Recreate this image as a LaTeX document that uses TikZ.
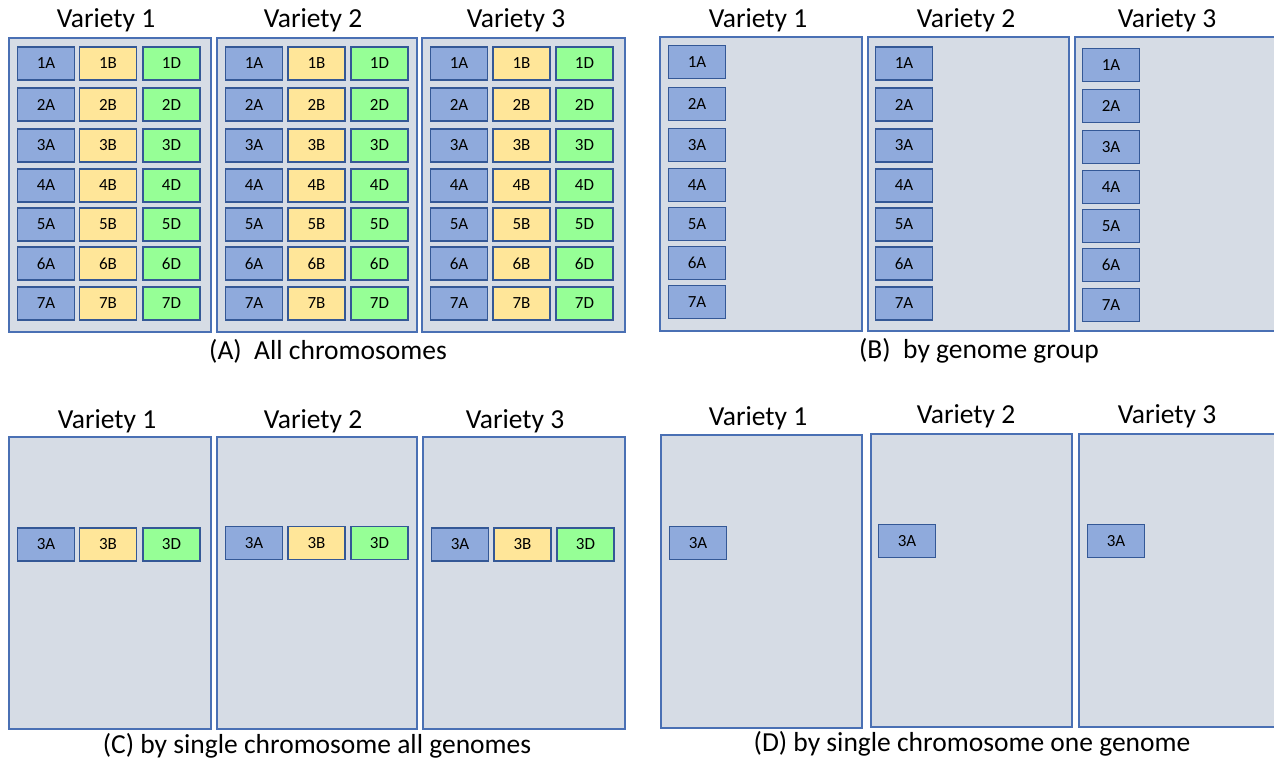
\documentclass[tikz,border=0pt]{standalone}
\usepackage{fontspec}
\setmainfont{Carlito}
\definecolor{ofill}{RGB}{214,220,229}
\definecolor{obord}{RGB}{74,112,180}
\definecolor{cbord}{RGB}{52,88,150}
\definecolor{cblue}{RGB}{143,170,220}
\definecolor{cyellow}{RGB}{255,230,153}
\definecolor{cgreen}{RGB}{150,255,150}
\begin{document}
\begin{tikzpicture}[x=1pt,y=-1pt,
  outer/.style={draw=obord, fill=ofill, line width=1.5pt, inner sep=0pt, anchor=north west},
  chr/.style={draw=cbord, line width=1.6pt, minimum width=57pt, minimum height=33pt, inner sep=0pt,
    font=\fontsize{17}{17}\selectfont, text=black},
  ca/.style={chr, fill=cblue},
  cb/.style={chr, fill=cyellow},
  cd/.style={chr, fill=cgreen},
  vtitle/.style={font=\fontsize{27.5}{30}\selectfont, text=black},
  pcap/.style={font=\fontsize{27.5}{30}\selectfont, text=black}]
\useasboundingbox (0,0) rectangle (1274,763);
\fill[white] (0,0) rectangle (1274,763);

% ---------- Panel A ----------
\foreach \n/\xl/\xr in {1/8/210, 2/216/416, 3/421/624}{
  \pgfmathsetmacro{\w}{\xr-\xl}
  \node[outer, minimum width=\w pt, minimum height=294pt] (A\n) at (\xl,37) {};
}
\foreach \n/\xa/\xb/\xd in {1/46/108/171.5, 2/254/316.5/379.5, 3/459/521.5/584.5}{
  \foreach \r/\y in {1/63.5, 2/104.5, 3/145.5, 4/185.5, 5/224.5, 6/263.5, 7/303.5}{
    \node[ca] (A\n-\r A) at (\xa,\y) {\r A};
    \node[cb] (A\n-\r B) at (\xb,\y) {\r B};
    \node[cd] (A\n-\r D) at (\xd,\y) {\r D};
  }
}
\node[vtitle] (tA1) at (106,20) {Variety 1};
\node[vtitle] (tA2) at (313,20) {Variety 2};
\node[vtitle] (tA3) at (516,20) {Variety 3};
\node[pcap] (capA) at (328,351) {(A)~ All chromosomes};

% ---------- Panel B ----------
\foreach \n/\xl/\xr in {1/659/861, 2/867/1068, 3/1074/1278}{
  \pgfmathsetmacro{\w}{\xr-\xl}
  \node[outer, minimum width=\w pt, minimum height=294pt] (B\n) at (\xl,36) {};
}
\foreach \r/\y in {1/62, 2/104, 3/145, 4/185, 5/224, 6/263, 7/302}{
  \node[ca] (B1-\r A) at (697,\y) {\r A};
}
\foreach \r/\y in {1/63.5, 2/104.5, 3/145.5, 4/185.5, 5/224.5, 6/263.5, 7/303.5}{
  \node[ca] (B2-\r A) at (904,\y) {\r A};
}
\foreach \r/\y in {1/65, 2/106, 3/147, 4/187, 5/226, 6/265, 7/305}{
  \node[ca] (B3-\r A) at (1111,\y) {\r A};
}
\node[vtitle] (tB1) at (758,20) {Variety 1};
\node[vtitle] (tB2) at (966,20) {Variety 2};
\node[vtitle] (tB3) at (1167,20) {Variety 3};
\node[pcap] (capB) at (979,351) {(B)~ by genome group};

% ---------- Panel C ----------
\foreach \n/\xl/\xr in {1/8/210, 2/216/416, 3/422/624}{
  \pgfmathsetmacro{\w}{\xr-\xl}
  \node[outer, minimum width=\w pt, minimum height=292pt] (C\n) at (\xl,436) {};
}
\foreach \n/\xa/\xb/\xd/\y in {1/46/108/171.5/544.5, 2/254/316.5/379.5/543, 3/460/522.5/585.5/544.5}{
  \node[ca] (C\n-3A) at (\xa,\y) {3A};
  \node[cb] (C\n-3B) at (\xb,\y) {3B};
  \node[cd] (C\n-3D) at (\xd,\y) {3D};
}
\node[vtitle] (tC1) at (107,421) {Variety 1};
\node[vtitle] (tC2) at (313,421) {Variety 2};
\node[vtitle] (tC3) at (515,421) {Variety 3};
\node[pcap] (capC) at (317,746) {(C) by single chromosome all genomes};

% ---------- Panel D ----------
\node[outer, minimum width=201pt, minimum height=293pt] (D1) at (660,434) {};
\node[outer, minimum width=201pt, minimum height=293pt] (D2) at (870,433) {};
\node[outer, minimum width=200pt, minimum height=293pt] (D3) at (1078,433) {};
\node[ca] (D1-3A) at (698,543) {3A};
\node[ca] (D2-3A) at (907,541) {3A};
\node[ca] (D3-3A) at (1116,541) {3A};
\node[vtitle] (tD1) at (758,418) {Variety 1};
\node[vtitle] (tD2) at (966,416) {Variety 2};
\node[vtitle] (tD3) at (1167,416) {Variety 3};
\node[pcap] (capD) at (972,744) {(D) by single chromosome one genome};
\end{tikzpicture}
\end{document}
